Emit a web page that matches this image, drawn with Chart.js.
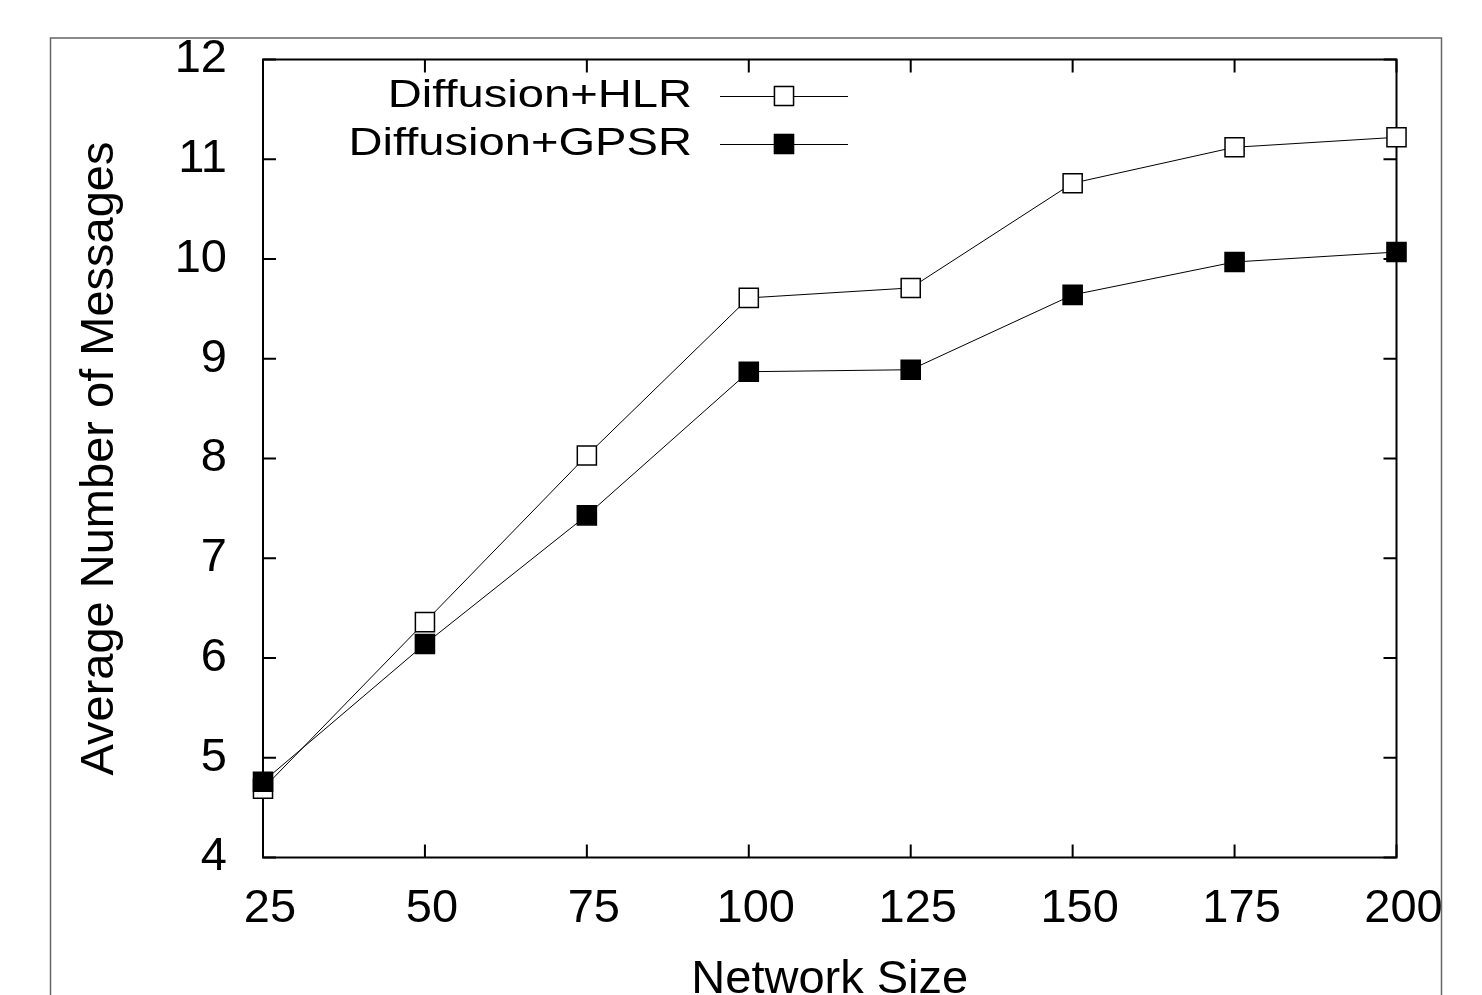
<!DOCTYPE html>
<html>
<head>
<meta charset="utf-8">
<title>Average Number of Messages vs Network Size</title>
<script src="https://cdn.jsdelivr.net/npm/chart.js@4.4.1/dist/chart.umd.min.js"></script>
<style>
  html, body { margin: 0; padding: 0; background: #fff; }
  canvas { display: block; }
</style>
</head>
<body>
<canvas id="lineChart" width="1482" height="995"></canvas>
<script>
// datos
const networkSizes = [25, 50, 75, 100, 125, 150, 175, 200];
const hlrMessages = [4.69, 6.36, 8.03, 9.61, 9.71, 10.76, 11.12, 11.22];
const gpsrMessages = [4.76, 6.14, 7.43, 8.87, 8.89, 9.64, 9.97, 10.07];
const seriesNames = ['Diffusion+HLR', 'Diffusion+GPSR'];
const xTicks = [25, 50, 75, 100, 125, 150, 175, 200];
const yTicks = [4, 5, 6, 7, 8, 9, 10, 11, 12];

Chart.defaults.font.family = '"Liberation Sans", Arial, Helvetica, sans-serif';
Chart.defaults.color = '#000';

function toPoints(values) {
  return networkSizes.map((x, i) => ({ x: x, y: values[i] }));
}

// marco exterior gris
const outerFrame = {
  id: 'outerFrame',
  beforeDraw(chart) {
    const ctx = chart.ctx;
    ctx.save();
    ctx.strokeStyle = '#666';
    ctx.lineWidth = 1.5;
    ctx.strokeRect(50.5, 38, 1391, 1000);
    ctx.restore();
  }
};

// borde del area y marcas hacia dentro (estilo gnuplot)
const plotFrame = {
  id: 'plotFrame',
  beforeDatasetsDraw(chart) {
    const { ctx, chartArea: a, scales } = chart;
    const tick = 13;
    ctx.save();
    ctx.strokeStyle = '#000';
    ctx.lineWidth = 2;
    ctx.strokeRect(a.left, a.top, a.right - a.left, a.bottom - a.top);
    ctx.beginPath();
    yTicks.forEach(v => {
      const py = scales.y.getPixelForValue(v);
      ctx.moveTo(a.left, py); ctx.lineTo(a.left + tick, py);
      ctx.moveTo(a.right, py); ctx.lineTo(a.right - tick, py);
    });
    xTicks.forEach(v => {
      const px = scales.x.getPixelForValue(v);
      ctx.moveTo(px, a.bottom); ctx.lineTo(px, a.bottom - tick);
      ctx.moveTo(px, a.top); ctx.lineTo(px, a.top + tick);
    });
    ctx.stroke();
    ctx.restore();
  }
};

// leyenda: texto a la izquierda, muestra de linea y marcador a la derecha
const sampleLegend = {
  id: 'sampleLegend',
  afterDraw(chart) {
    const ctx = chart.ctx;
    const textRight = 692, lineStart = 720, lineEnd = 848, rowTop = 96, rowGap = 48;
    ctx.save();
    chart.data.datasets.forEach((ds, i) => {
      const y = rowTop + i * rowGap;
      ctx.save();
      ctx.translate(textRight, y + 1);
      ctx.scale(1.24, 1);
      ctx.font = '38px "Liberation Sans", Arial, sans-serif';
      ctx.fillStyle = '#000';
      ctx.textAlign = 'right';
      ctx.textBaseline = 'middle';
      ctx.fillText(ds.label, 0, 0);
      ctx.restore();

      ctx.strokeStyle = ds.borderColor;
      ctx.lineWidth = 1;
      ctx.beginPath();
      ctx.moveTo(lineStart, y + 0.5);
      ctx.lineTo(lineEnd, y + 0.5);
      ctx.stroke();
      const mid = (lineStart + lineEnd) / 2;
      Chart.helpers.drawPoint(ctx, {
        pointStyle: 'rect', radius: ds.pointRadius, borderWidth: ds.pointBorderWidth, rotation: 0
      }, mid, y);
      ctx.fillStyle = ds.pointBackgroundColor;
      ctx.strokeStyle = ds.pointBorderColor;
      ctx.lineWidth = ds.pointBorderWidth;
      ctx.fill();
      ctx.stroke();
    });
    ctx.restore();
  }
};

let myLineChart;

function createLineChart() {
  const ctx = document.getElementById('lineChart').getContext('2d');
  myLineChart = new Chart(ctx, {
    type: 'line',
    data: {
      datasets: [{
        label: seriesNames[0],
        data: toPoints(hlrMessages),
        borderColor: '#000',
        borderWidth: 1,
        pointStyle: 'rect',
        pointRadius: 13.5,
        pointBorderWidth: 1.5,
        pointBackgroundColor: '#fff',
        pointBorderColor: '#000',
        tension: 0,
        clip: false,
        order: 1
      }, {
        label: seriesNames[1],
        data: toPoints(gpsrMessages),
        borderColor: '#000',
        borderWidth: 1,
        pointStyle: 'rect',
        pointRadius: 13.5,
        pointBorderWidth: 1.5,
        pointBackgroundColor: '#000',
        pointBorderColor: '#000',
        tension: 0,
        clip: false,
        order: 0
      }]
    },
    options: {
      responsive: false,
      animation: false,
      devicePixelRatio: 1,
      layout: { padding: { top: 59.5, right: 85.5, left: 0, bottom: 0 } },
      plugins: {
        legend: { display: false },
        tooltip: { enabled: false }
      },
      scales: {
        x: {
          type: 'linear',
          min: 25,
          max: 200,
          grid: { display: false },
          border: { display: false },
          afterBuildTicks: scale => { scale.ticks = xTicks.map(v => ({ value: v })); },
          afterFit: scale => { scale.height = 137.5; },
          ticks: { font: { size: 47 }, padding: 15, labelOffset: 7, maxRotation: 0 },
          title: {
            display: true,
            text: 'Network Size',
            font: { size: 47 },
            padding: { top: 0, bottom: -13 }
          }
        },
        y: {
          min: 4,
          max: 12,
          grid: { display: false },
          border: { display: false },
          afterBuildTicks: scale => { scale.ticks = yTicks.map(v => ({ value: v })); },
          afterFit: scale => { scale.width = 263; },
          ticks: { font: { size: 47 }, padding: 28 },
          title: {
            display: true,
            text: 'Average Number of Messages',
            font: { size: 47 },
            padding: { top: 72, bottom: 0 }
          }
        }
      }
    },
    plugins: [outerFrame, plotFrame, sampleLegend]
  });
}

createLineChart();
</script>
</body>
</html>
